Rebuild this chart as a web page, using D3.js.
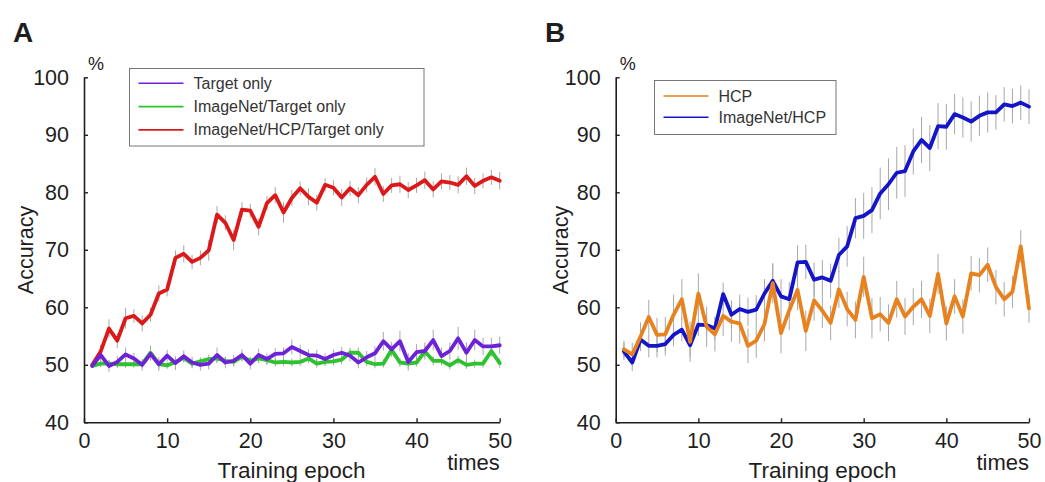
<!DOCTYPE html>
<html>
<head>
<meta charset="utf-8">
<script src="https://cdn.jsdelivr.net/npm/d3@7"></script>
<style>
  html, body { margin: 0; padding: 0; background: #fff; }
  svg { display: block; font-family: "Liberation Sans", Arial, Helvetica, sans-serif; }
</style>
</head>
<body>
<svg id="chart" width="1045" height="482"></svg>
<script>
// ---------- data ----------
const epochs = d3.range(1, 51);
const xTicks = [0, 10, 20, 30, 40, 50];
const yTicks = [40, 50, 60, 70, 80, 90, 100];

// Panel A
const targetOnly = [49.8,51.7,49.8,50.5,51.8,51.1,50.0,51.9,50.1,51.6,50.3,51.5,50.4,50.0,50.2,51.7,50.4,50.7,51.7,50.2,
                    51.7,51.0,51.9,52.0,53.1,52.4,51.7,51.6,51.0,51.7,52.1,51.6,50.4,51.3,52.0,54.1,52.7,54.1,50.5,52.2,
                    52.4,54.3,51.5,52.4,54.6,52.1,54.3,53.2,53.2,53.4];
const targetOnlyErr = [0.3,1.2,1.0,1.0,1.2,1.0,1.0,1.2,1.2,1.0,1.2,1.0,1.0,1.0,1.0,1.3,1.0,1.0,1.0,1.0,
                       1.1,1.0,1.0,1.0,1.3,1.1,1.0,1.0,1.0,1.0,1.0,1.0,1.0,1.1,1.2,1.6,1.3,1.8,1.5,1.4,
                       1.5,1.8,1.5,1.5,2.0,1.8,1.8,1.5,1.5,1.5];
const imagenetTarget = [49.8,50.2,50.2,50.1,50.1,50.1,50.1,52.1,50.1,49.9,50.5,51.2,50.2,50.6,51.0,51.1,50.7,50.5,51.4,50.7,
                        51.1,50.8,50.4,50.5,50.4,50.5,51.1,50.2,50.5,50.6,50.9,52.1,52.1,50.5,50.1,50.2,52.6,50.4,50.2,50.4,
                        52.3,50.7,50.7,49.9,50.8,50.0,50.2,50.2,52.4,50.3];
const imagenetTargetErr = [0.2,0.6,0.6,0.6,0.6,0.6,0.6,1.2,0.8,0.6,0.7,0.8,0.7,0.7,0.8,0.8,0.7,0.7,0.8,0.7,
                           0.8,0.7,0.7,0.7,0.7,0.7,0.8,0.7,0.7,0.7,0.8,0.9,0.9,0.7,0.7,0.7,1.0,0.8,0.7,0.7,
                           1.0,0.8,0.8,0.7,0.8,0.7,0.7,0.7,1.0,0.8];
const imagenetHcpTarget = [50.0,52.3,56.3,54.2,58.1,58.5,57.2,58.7,62.4,63.1,68.6,69.3,67.9,68.6,69.9,76.1,74.7,71.7,77.0,76.8,
                           74.0,78.1,79.5,76.5,79.0,80.7,79.2,78.2,81.3,80.8,79.1,80.7,79.5,81.3,82.7,79.7,81.2,81.4,80.4,81.2,
                           82.1,80.5,81.9,81.7,81.3,82.8,81.1,82.0,82.6,82.0];
const imagenetHcpTargetErr = [0.5,1.2,1.6,1.3,1.8,1.2,1.4,1.2,1.4,1.2,1.3,1.5,1.2,1.3,1.8,1.5,1.3,1.8,1.3,1.2,
                              1.5,1.2,1.4,1.8,1.4,1.2,1.5,1.4,1.2,1.3,1.5,1.3,1.4,1.3,1.5,1.4,1.3,1.5,1.4,1.3,
                              1.5,1.4,1.4,1.3,1.5,1.5,1.4,1.3,1.3,1.5];

// Panel B
const hcp = [52.7,51.8,54.9,58.3,55.2,55.3,58.7,61.4,54.0,62.4,56.6,55.3,58.5,57.5,57.2,53.3,54.2,57.1,64.2,55.5,
             59.5,63.0,55.9,61.2,59.4,57.3,63.1,59.7,57.8,65.3,58.1,58.8,57.3,61.4,58.4,60.1,61.4,58.5,65.8,57.2,
             61.9,58.4,65.9,65.6,67.4,63.5,61.4,62.7,70.6,59.8];
const hcpErr = [1.5,2.0,2.5,3.0,3.0,3.0,3.5,3.5,3.5,3.5,3.5,3.0,3.5,3.5,3.5,3.0,3.0,3.0,3.5,3.5,
                3.5,3.5,3.5,3.5,3.0,3.0,3.2,3.0,3.2,3.5,3.5,3.0,3.2,3.2,3.2,3.2,3.2,3.0,3.5,3.0,
                3.0,3.0,3.0,3.0,3.0,3.0,3.0,2.8,2.8,2.5];
const imagenetHcp = [52.3,50.4,54.4,53.3,53.3,53.6,55.2,56.1,53.4,57.0,56.9,56.3,62.3,58.7,59.7,59.2,59.6,62.4,64.6,61.9,
                     61.4,67.8,67.9,64.8,65.2,64.6,69.1,70.6,75.5,75.9,76.9,79.8,81.4,83.4,83.7,87.1,89.1,87.7,91.5,91.4,
                     93.6,93.0,92.3,93.3,93.9,93.9,95.3,95.0,95.6,94.9];
const imagenetHcpErr = [1.5,1.5,2.0,2.0,2.0,2.0,2.0,2.0,2.0,2.0,2.0,2.0,2.0,2.5,2.5,2.5,2.5,2.5,3.0,3.0,
                        3.0,3.0,3.0,3.0,3.0,3.0,3.0,3.5,3.5,4.0,4.0,4.5,4.5,4.5,4.5,4.0,4.0,4.0,4.0,4.0,
                        3.5,3.5,3.5,3.5,3.5,3.0,3.0,3.0,3.0,3.0];

const seriesA = [
  { name: "Target only", values: targetOnly, err: targetOnlyErr, color: "#6e22d8" },
  { name: "ImageNet/Target only", values: imagenetTarget, err: imagenetTargetErr, color: "#2ec22e" },
  { name: "ImageNet/HCP/Target only", values: imagenetHcpTarget, err: imagenetHcpTargetErr, color: "#dc1818" }
];
const drawOrderA = [2, 1, 0];
const seriesB = [
  { name: "HCP", values: hcp, err: hcpErr, color: "#e8821e" },
  { name: "ImageNet/HCP", values: imagenetHcp, err: imagenetHcpErr, color: "#1414c8" }
];
const drawOrderB = [1, 0];

// ---------- drawing ----------
const svg = d3.select("#chart");
const ink = "#1e1e1e";

function panel(cfg) {
  const x = d3.scaleLinear().domain([0, 50]).range([cfg.x0, cfg.x1]);
  const y = d3.scaleLinear().domain([40, 100]).range([422.3, 77.3]);
  const g = svg.append("g");

  // panel letter
  g.append("text").attr("x", cfg.letterX).attr("y", 42)
    .attr("font-size", 28).attr("font-weight", "bold").attr("fill", ink)
    .attr("font-family", "Liberation Sans, Arial, sans-serif")
    .text(cfg.letter);

  // axes
  const yAxis = d3.axisLeft(y).tickValues(yTicks).tickSizeInner(-4).tickSizeOuter(0).tickPadding(15);
  const xAxis = d3.axisBottom(x).tickValues(xTicks).tickSizeInner(-4).tickSizeOuter(0).tickPadding(10);
  const ya = g.append("g").attr("transform", `translate(${cfg.x0},0)`).call(yAxis);
  const xa = g.append("g").attr("transform", `translate(0,${y(40)})`).call(xAxis);
  [ya, xa].forEach(a => {
    a.select(".domain").attr("stroke", ink).attr("stroke-width", 1.6);
    a.selectAll(".tick line").attr("stroke", ink).attr("stroke-width", 1.4);
    a.selectAll(".tick text").attr("fill", ink).attr("font-size", 21.5)
      .attr("font-family", "Liberation Sans, Arial, sans-serif");
  });

  // axis labels
  g.append("text").attr("x", cfg.x0 + 4).attr("y", 70).attr("font-size", 18).attr("fill", ink).text("%");
  g.append("text").attr("transform", `translate(${cfg.yLabelX},250) rotate(-90)`)
    .attr("text-anchor", "middle").attr("font-size", 21.5).attr("fill", ink).text("Accuracy");
  g.append("text").attr("x", cfg.xLabelCx).attr("y", 477.5).attr("text-anchor", "middle")
    .attr("font-size", 22.5).attr("fill", ink).text("Training epoch");
  g.append("text").attr("x", x(50)).attr("y", 470).attr("text-anchor", "end")
    .attr("font-size", 22).attr("fill", ink).text("times");

  // error bars
  cfg.order.forEach(i => {
    const s = cfg.series[i];
    g.append("g").selectAll("line").data(epochs).join("line")
      .attr("x1", (d) => x(d)).attr("x2", (d) => x(d))
      .attr("y1", (d, k) => y(s.values[k] - s.err[k]))
      .attr("y2", (d, k) => y(s.values[k] + s.err[k]))
      .attr("stroke", "#a8a8a8").attr("stroke-width", 1);
  });

  // lines
  const line = d3.line().x((d) => x(d[0])).y((d) => y(d[1]));
  cfg.order.forEach(i => {
    const s = cfg.series[i];
    g.append("path").datum(epochs.map((e, k) => [e, s.values[k]]))
      .attr("d", line).attr("fill", "none").attr("stroke", s.color)
      .attr("stroke-width", 3.8).attr("stroke-linejoin", "round").attr("stroke-linecap", "round");
  });

  // legend
  const L = cfg.legend;
  g.append("rect").attr("x", L.x).attr("y", L.y).attr("width", L.w).attr("height", L.h)
    .attr("fill", "#fff").attr("stroke", "#777").attr("stroke-width", 1);
  cfg.series.forEach((s, i) => {
    const cy = L.firstY + i * L.step;
    g.append("line").attr("x1", L.x + 9).attr("x2", L.x + 54).attr("y1", cy).attr("y2", cy)
      .attr("stroke", s.color).attr("stroke-width", 1.6);
    g.append("text").attr("x", L.x + 64).attr("y", cy + 5.5).attr("font-size", 16)
      .attr("fill", "#333").text(s.name);
  });
}

panel({
  letter: "A", letterX: 13, x0: 84, x1: 499.7, yLabelX: 33, xLabelCx: 291.5,
  series: seriesA, order: drawOrderA,
  legend: { x: 129.5, y: 68.5, w: 294.5, h: 77.5, firstY: 83.3, step: 23.3 }
});
panel({
  letter: "B", letterX: 545, x0: 615.7, x1: 1029, yLabelX: 568, xLabelCx: 822.5,
  series: seriesB, order: drawOrderB,
  legend: { x: 654.5, y: 80.5, w: 181.5, h: 54, firstY: 96, step: 21.3 }
});
</script>
</body>
</html>
